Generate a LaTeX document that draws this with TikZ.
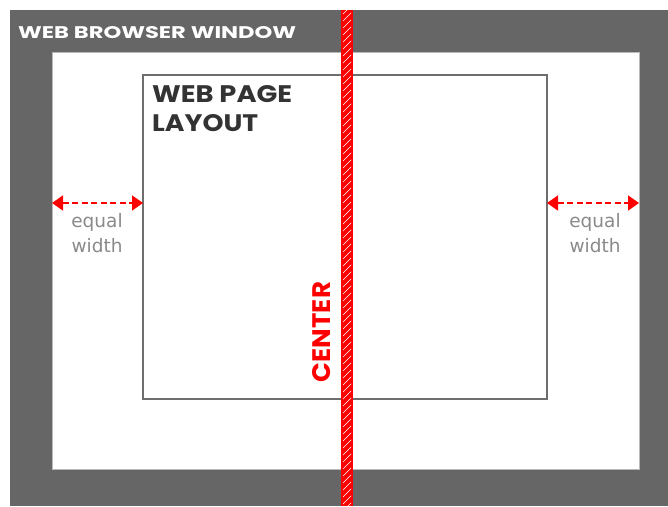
\documentclass[tikz,border=0pt]{standalone}
\usepackage{fontspec}
\setmainfont{DejaVu Sans}
\newfontfamily\headfont{Poppins}
\usetikzlibrary{arrows.meta}
\definecolor{frame}{HTML}{666666}
\definecolor{boxline}{HTML}{6E6E6E}
\definecolor{txtgray}{HTML}{8A8A8A}
\definecolor{dark}{HTML}{333333}
\definecolor{cred}{HTML}{FF0000}
\begin{document}
\begin{tikzpicture}[x=1pt,y=-1pt,
  eqlabel/.style={font=\fontsize{18.5}{25}\selectfont, text=txtgray, align=center, inner sep=0pt, anchor=base},
  eqarrow/.style={cred, dash pattern=on 6pt off 3.5pt, line width=1.6pt, {Triangle[length=11pt,width=15pt]}-{Triangle[length=11pt,width=15pt]}}
]
\useasboundingbox (0,0) rectangle (668,506);
\fill[white] (0,0) rectangle (668,506);
% browser window
\fill[frame] (10,10) rectangle (668,506);
\node[anchor=base west, inner sep=0pt, text=white, font=\headfont\bfseries] (title) at (18,38) {\resizebox{278pt}{12pt}{WEB BROWSER WINDOW}};
\filldraw[fill=white, draw=gray!55, line width=1pt] (52,52) rectangle (639,469);
% web page box
\draw[boxline, line width=1.5pt] (143,75) rectangle (547,399);
\node[anchor=base west, inner sep=0pt, text=dark, font=\headfont\bfseries] (page1) at (152,102.5) {\resizebox{140pt}{17pt}{WEB PAGE}};
\node[anchor=base west, inner sep=0pt, text=dark, font=\headfont\bfseries] (page2) at (152,131) {\resizebox{106pt}{17pt}{LAYOUT}};
% anchors for arrows
\coordinate (wl) at (52,203);
\coordinate (pl) at (143,203);
\coordinate (pr) at (547,203);
\coordinate (wr) at (639,203);
\draw[eqarrow] (wl) -- (pl);
\draw[eqarrow] (pr) -- (wr);
\node[eqlabel] (eql1) at (97,227) {equal};
\node[eqlabel] (eql2) at (97,252) {width};
\node[eqlabel] (eqr1) at (595,227) {equal};
\node[eqlabel] (eqr2) at (595,252) {width};
% center stripe
\fill[cred] (341,10) rectangle (353,506);
\begin{scope}
\clip (343,10) rectangle (351,506);
\foreach \y in {0,7,...,530}{
  \draw[white, line width=0.6pt] (341,\y+9) -- (353,\y-3);
}
\end{scope}
\node[rotate=90, inner sep=0pt, text=cred, font=\headfont\bfseries] (center) at (322,332) {\resizebox{100pt}{18pt}{CENTER}};
\end{tikzpicture}
\end{document}
